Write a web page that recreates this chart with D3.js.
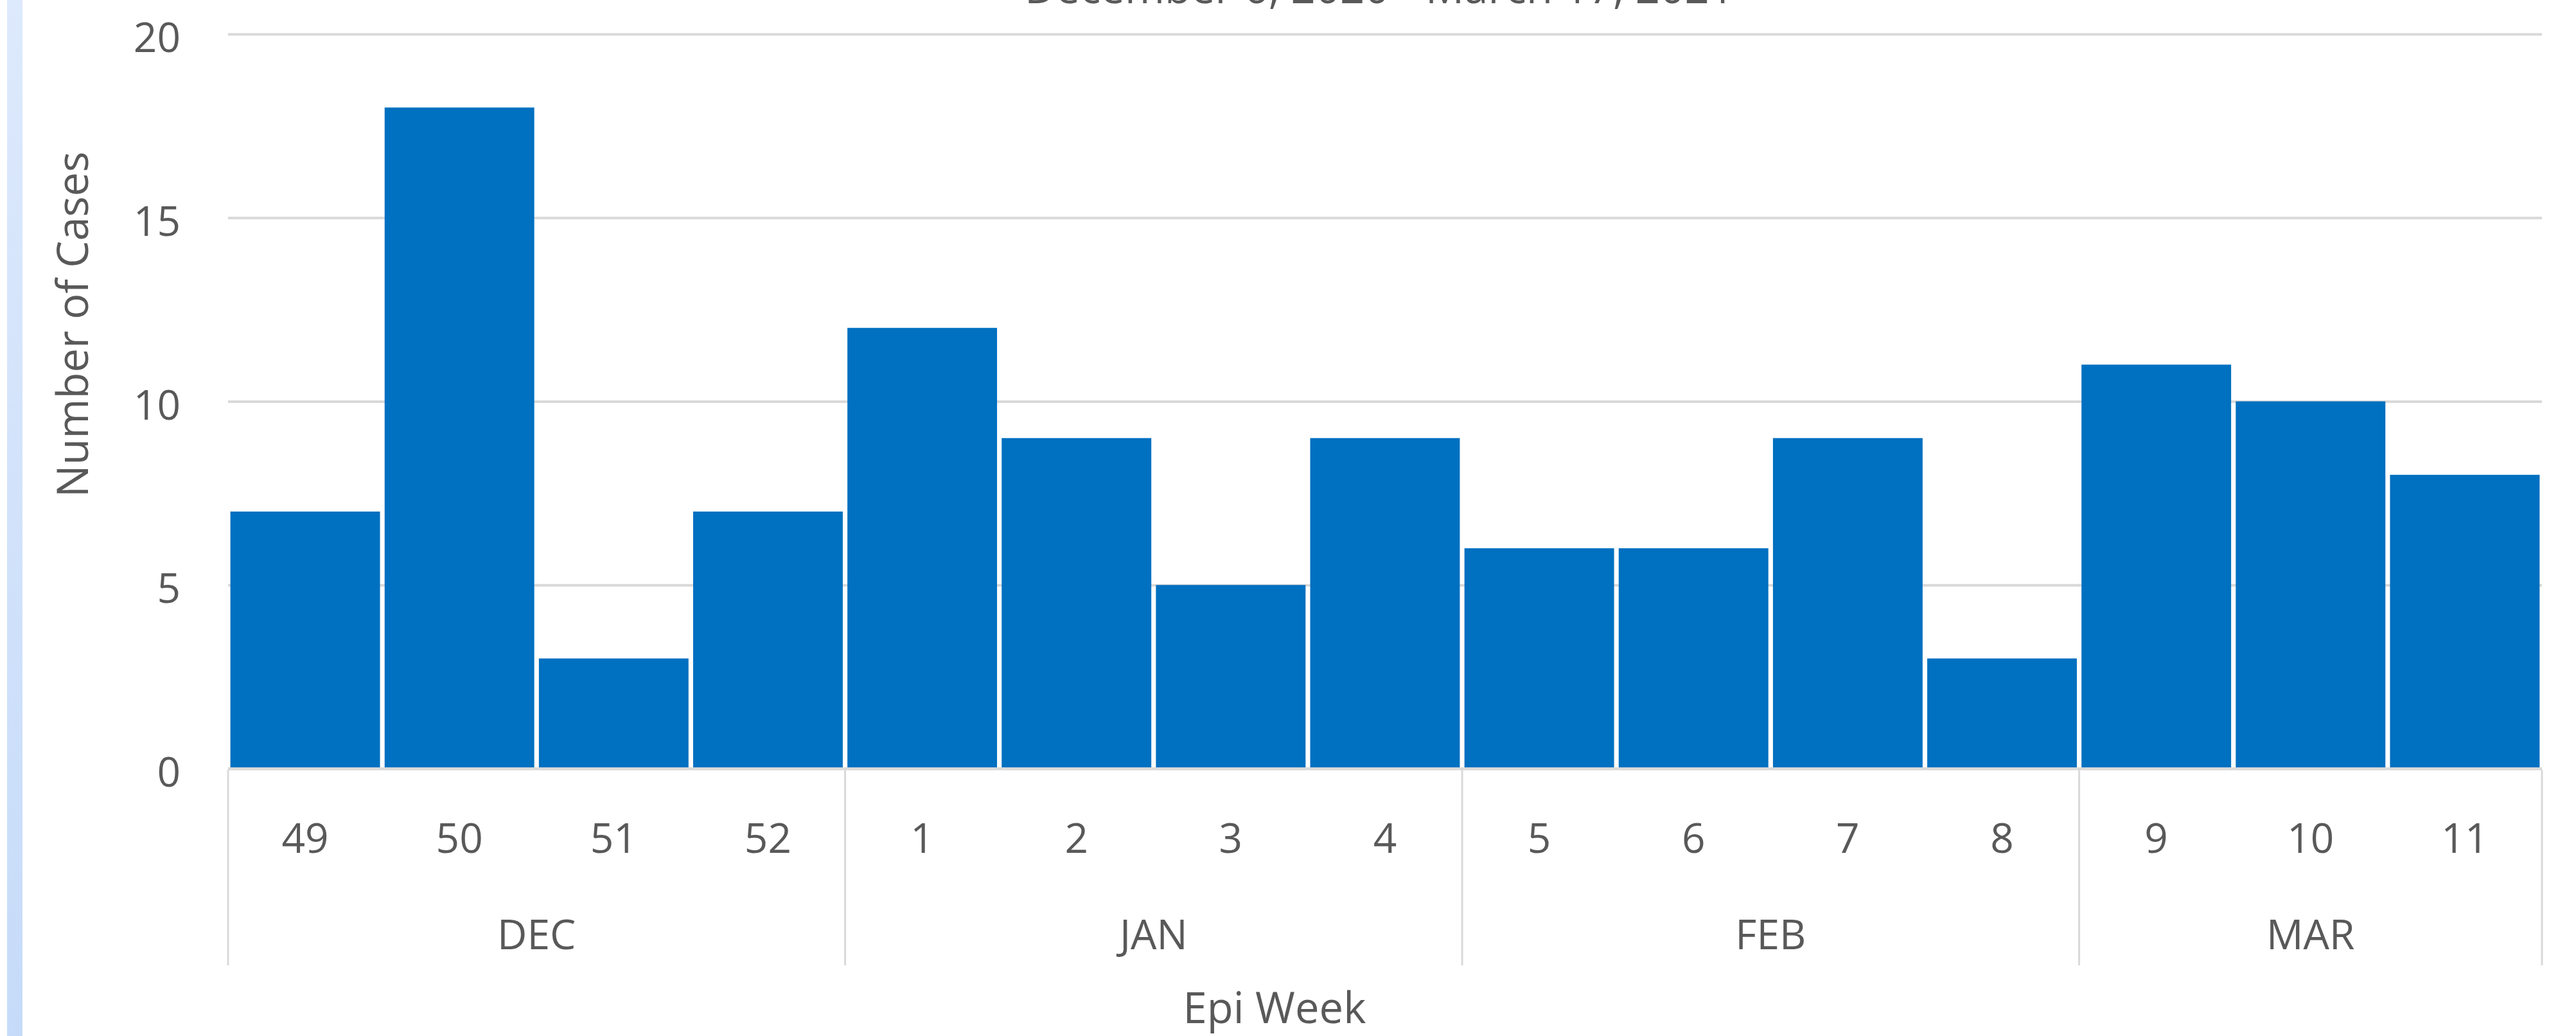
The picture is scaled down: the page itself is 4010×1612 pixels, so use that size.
<!DOCTYPE html>
<html>
<head>
<meta charset="utf-8">
<script src="https://cdn.jsdelivr.net/npm/d3@7"></script>
<style>
  html, body { margin: 0; padding: 0; background: #fff; }
  svg text { font-family: "Open Sans", "Noto Sans", sans-serif; fill: #595959; }
</style>
</head>
<body>
<svg id="chart" width="4010" height="1612"></svg>
<script>
const weeks = ['49', '50', '51', '52', '1', '2', '3', '4', '5', '6', '7', '8', '9', '10', '11'];
const weekMonths = ['DEC', 'DEC', 'DEC', 'DEC', 'JAN', 'JAN', 'JAN', 'JAN', 'FEB', 'FEB', 'FEB', 'FEB', 'MAR', 'MAR', 'MAR'];
const cases = [7, 18, 3, 7, 12, 9, 5, 9, 6, 6, 9, 3, 11, 10, 8];
const yTicks = [0, 5, 10, 15, 20];
const months = ['DEC', 'JAN', 'FEB', 'MAR'];

const width = 4010;
const height = 1612;
const margin = { left: 355, right: 53, top: 53, bottom: 415 };
const fontSize = 64;
const titleSize = 67;

const svg = d3.select('#chart');

// light blue strip on the left edge
const grad = svg.append('defs').append('linearGradient')
  .attr('id', 'strip').attr('x1', 0).attr('x2', 0).attr('y1', 0).attr('y2', 1);
grad.append('stop').attr('offset', '0%').attr('stop-color', '#dde9fc');
grad.append('stop').attr('offset', '100%').attr('stop-color', '#c6dbf9');
svg.append('rect').attr('x', 11).attr('y', 0).attr('width', 24).attr('height', height).attr('fill', 'url(#strip)');

const x = d3.scaleBand()
  .domain(weeks.map((w, i) => i))
  .range([margin.left, width - margin.right])
  .paddingInner(0.03)
  .paddingOuter(0.015);

const y = d3.scaleLinear()
  .domain([0, 20])
  .range([height - margin.bottom - 1, margin.top]);

// gridlines + y labels
const yAxis = svg.append('g')
  .attr('transform', `translate(${margin.left},0)`)
  .call(d3.axisLeft(y).tickValues(yTicks).tickSize(-(width - margin.left - margin.right)).tickPadding(74));
yAxis.select('.domain').remove();
yAxis.selectAll('.tick line').attr('stroke', '#d9d9d9').attr('stroke-width', 4);
yAxis.selectAll('.tick text')
  .attr('font-size', fontSize)
  .attr('dy', '0.43em')
  .style('font-family', '"Open Sans", sans-serif')
  .attr('fill', '#595959');

// bars
svg.append('g')
  .selectAll('rect')
  .data(cases)
  .join('rect')
  .attr('x', (d, i) => x(i))
  .attr('width', x.bandwidth())
  .attr('y', d => y(d))
  .attr('height', d => y(0) - y(d) - 1)
  .attr('fill', '#0070c0');

// zero line on top of bars
svg.append('line')
  .attr('x1', margin.left).attr('x2', width - margin.right)
  .attr('y1', y(0)).attr('y2', y(0))
  .attr('stroke', '#d9d9d9').attr('stroke-width', 4);

// week labels
const xAxis = svg.append('g')
  .attr('transform', `translate(0,${y(0)})`)
  .call(d3.axisBottom(x).tickFormat(i => weeks[i]).tickSize(0).tickPadding(0));
xAxis.select('.domain').remove();
xAxis.selectAll('.tick text')
  .attr('font-size', fontSize)
  .attr('dy', null)
  .attr('y', 131)
  .style('font-family', '"Open Sans", sans-serif')
  .attr('fill', '#595959');

// month groups
const start = margin.left;
const groups = months.map(m => {
  const idx = weekMonths.map((wm, i) => (wm === m ? i : -1)).filter(i => i >= 0);
  return { m, first: idx[0], last: idx[idx.length - 1] };
});
const bounds = groups.map(g => start + (x.range()[1] - start) * g.first / weeks.length)
  .concat([x.range()[1]]);

svg.append('g')
  .selectAll('line')
  .data(bounds)
  .join('line')
  .attr('x1', d => d).attr('x2', d => d)
  .attr('y1', y(0) + 2).attr('y2', 1502)
  .attr('stroke', '#d9d9d9').attr('stroke-width', 3);

svg.append('g')
  .selectAll('text')
  .data(groups)
  .join('text')
  .attr('x', (g, i) => (bounds[i] + bounds[i + 1]) / 2)
  .attr('y', 1477)
  .attr('text-anchor', 'middle')
  .attr('font-size', fontSize)
  .text(g => g.m);

// axis titles
svg.append('text')
  .attr('x', 1984).attr('y', 1592)
  .attr('text-anchor', 'middle')
  .attr('font-size', titleSize)
  .text('Epi Week');

svg.append('text')
  .attr('transform', 'translate(137,505) rotate(-90)')
  .attr('text-anchor', 'middle')
  .attr('font-size', titleSize)
  .text('Number of Cases');

// subtitle, mostly above the top edge as in the source
svg.append('text')
  .attr('x', 2147).attr('y', 5)
  .attr('text-anchor', 'middle')
  .attr('font-size', titleSize)
  .text('December 6, 2020 - March 17, 2021');
</script>
</body>
</html>
